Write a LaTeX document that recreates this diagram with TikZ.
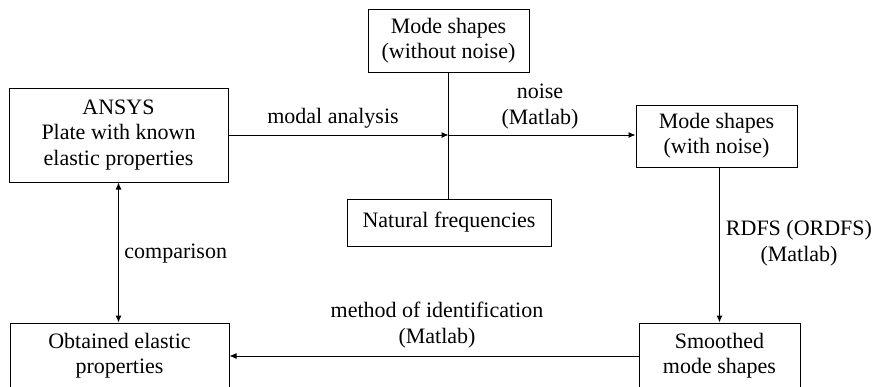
\documentclass[tikz,border=0pt]{standalone}
\usepackage{fontspec}
\setmainfont{Liberation Serif}
\usepackage{tikz}
\usetikzlibrary{positioning}
\usetikzlibrary{arrows.meta}
\tikzstyle{arrow} = [line width=0.5pt,-{Latex[length=3.5pt,width=3pt]}]
\tikzstyle{dblarrow} = [line width=0.5pt,{Latex[length=3.5pt,width=3pt]}-{Latex[length=3.5pt,width=3pt]}]
\tikzstyle{plain} = [line width=0.5pt]
\tikzstyle{block} = [draw,line width=0.5pt,align=center,inner sep=0pt,font=\fontsize{11}{12.7}\selectfont]
\tikzstyle{lbl} = [align=center,inner sep=0pt,font=\fontsize{11}{12.9}\selectfont]

\begin{document}
\begin{tikzpicture}[x=0.5pt,y=-0.5pt]
	\useasboundingbox (0,0) rectangle (873,386);
	
	%Nodes
	\node [block,minimum width=109.5pt,minimum height=47pt] (ansys) at (118.5,135) {ANSYS\\Plate with known\\elastic properties};
	\node [block,minimum width=80.5pt,minimum height=31.5pt] (clean) at (448.5,40.5) {Mode shapes\\(without noise)};
	\node [block,minimum width=102pt,minimum height=23.5pt] (natfreq) at (449,222.5) {Natural frequencies};
	\node [block,minimum width=80.5pt,minimum height=31pt] (noisy) at (716.5,136) {Mode shapes\\(with noise)};
	\node [block,minimum width=80.5pt,minimum height=33pt] (smooth) at (719.5,356) {Smoothed\\mode shapes};
	\node [block,minimum width=109.5pt,minimum height=33pt] (obtained) at (119.5,356) {Obtained elastic\\properties};
	
	%Coordinates
	\coordinate (hub) at (clean.south |- ansys.east);
	
	%Labels
	\node [lbl,anchor=base] (modal) at (333,123) {modal analysis};
	\node [lbl,anchor=base] (noise) at (540,124) {noise\\(Matlab)};
	\node [lbl,anchor=base] (rdfs) at (799,261) {RDFS (ORDFS)\\(Matlab)};
	\node [lbl,anchor=base west] (compare) at (124,258) {comparison};
	\node [lbl,anchor=base] (method) at (437,343) {method of identification\\(Matlab)};
	
	%Lines
	\draw[plain] (clean.south) -- (clean.south |- natfreq.north);
	\draw[arrow] (ansys.east) -- (hub);
	\draw[arrow] (hub) -- (hub -| noisy.west);
	\draw[arrow] (smooth.north |- noisy.south) -- (smooth.north);
	\draw[arrow] (smooth.west) -- (obtained.east);
	\draw[dblarrow] (ansys.south) -- (ansys.south |- obtained.north);
	
\end{tikzpicture}
\end{document}
